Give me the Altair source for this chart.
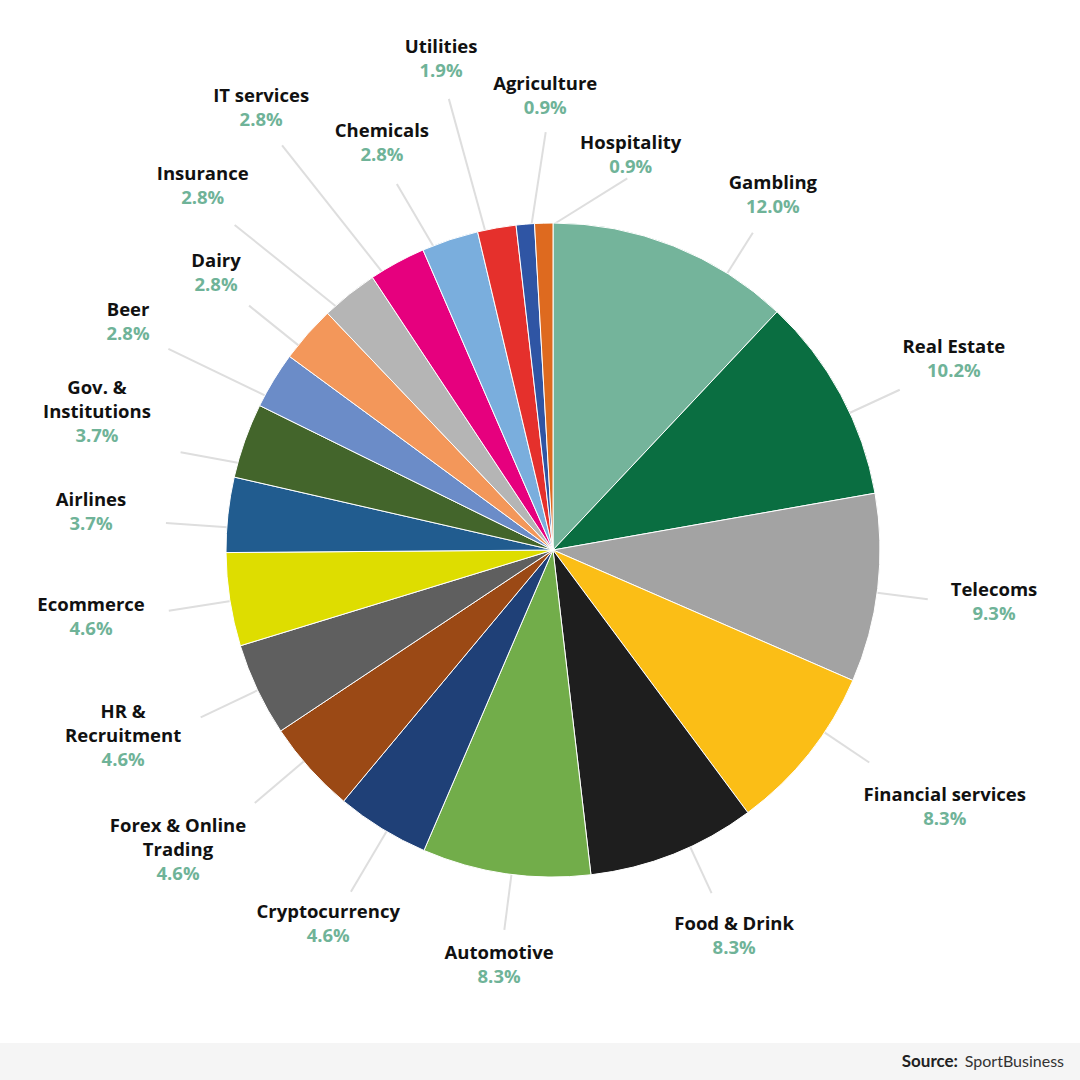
import math
import altair as alt
import pandas as pd

# ---------------- data ----------------
categories = [
    "Gambling", "Real Estate", "Telecoms", "Financial services", "Food & Drink",
    "Automotive", "Cryptocurrency", "Forex & Online\nTrading", "HR &\nRecruitment",
    "Ecommerce", "Airlines", "Gov. &\nInstitutions", "Beer", "Dairy", "Insurance",
    "IT services", "Chemicals", "Utilities", "Agriculture", "Hospitality",
]
shares = [12.0, 10.2, 9.3, 8.3, 8.3, 8.3, 4.6, 4.6, 4.6, 4.6,
          3.7, 3.7, 2.8, 2.8, 2.8, 2.8, 2.8, 1.9, 0.9, 0.9]
colors = [
    "#74b49b", "#0a6e41", "#a3a3a3", "#fbbe16", "#1e1e1e",
    "#72ad4a", "#1f4077", "#9b4915", "#5f5f5f", "#dedd00",
    "#215c8f", "#43652b", "#6b8cc8", "#f3975a", "#b5b5b5",
    "#e6007e", "#7aaedd", "#e5302c", "#2f55a4", "#de6a1f",
]

# ---------------- label layout (angle clockwise from top in degrees, radius in px) ----------------
label_angle = [32.2, 65.2, 97.5, 123.9, 155.2, 187.3, 210.6, 229.7, 244.6, 261.0,
               274.0, 284.7, 297.6, 308.8, 315.6, 326.2, 336.9, 347.0, 359.0, 371.3]
label_radius = [412.6, 441.6, 444.8, 472.0, 431.8, 424.4, 441.6, 491.7, 475.9, 467.7,
                463.1, 471.5, 479.5, 432.4, 500.7, 524.7, 436.0, 497.8, 448.1, 396.7]
line_end_radius = [375, 382, 378, 381, 378, 383, 397, 391, 390, 389,
                   388, 385, 434, 390, 455, 487, 398, 463, 418, 379]

PIE_R = 327
CX, CY = 553, 550
W, H = 1080, 1080
FONT = "Open Sans"

total = sum(shares)
rows = []
cum = 0.0
for i, (c, v) in enumerate(zip(categories, shares)):
    start, end = cum, cum + v
    cum = end
    a0 = start / total * 360
    a1 = end / total * 360
    m = 0.2 * (a1 - a0)
    la = label_angle[i]
    ls = min(max(la, a0 + m), a1 - m)
    parts = c.split("\n")
    rows.append(dict(
        category=c, share=v, start=start, end=end,
        name_top=" ".join(parts[:-1]), name_bot=parts[-1],
        pct=f"{v:.1f}%",
        lx=label_radius[i] * math.sin(math.radians(la)),
        ly=label_radius[i] * math.cos(math.radians(la)),
        x1=(PIE_R - 4) * math.sin(math.radians(ls)),
        y1=(PIE_R - 4) * math.cos(math.radians(ls)),
        x2=line_end_radius[i] * math.sin(math.radians(la)),
        y2=line_end_radius[i] * math.cos(math.radians(la)),
    ))
df = pd.DataFrame(rows)

xs = alt.Scale(domain=[-CX, W - CX], nice=False, zero=False)
ys = alt.Scale(domain=[-(H - CY), CY], nice=False, zero=False)

base = alt.Chart(df)

lines = base.mark_rule(color="#dedede", strokeWidth=2).encode(
    x=alt.X("x1:Q", scale=xs, axis=None),
    y=alt.Y("y1:Q", scale=ys, axis=None),
    x2="x2:Q",
    y2="y2:Q",
)

pie = base.mark_arc(outerRadius=PIE_R, stroke="white", strokeWidth=1).encode(
    theta=alt.Theta("start:Q", scale=alt.Scale(domain=[0, total], range=[0, 2 * math.pi])),
    theta2="end:Q",
    color=alt.Color("category:N", scale=alt.Scale(domain=categories, range=colors), legend=None),
    x=alt.value(CX),
    y=alt.value(CY),
)


def label_layer(field, color, dy):
    return base.mark_text(
        font=FONT, fontWeight="bold", fontSize=18.5, color=color,
        align="center", baseline="alphabetic", dy=dy,
    ).encode(
        x=alt.X("lx:Q", scale=xs, axis=None),
        y=alt.Y("ly:Q", scale=ys, axis=None),
        text=f"{field}:N",
    )


names_top = label_layer("name_top", "#111111", -36)
names_bot = label_layer("name_bot", "#111111", -12)
pcts = label_layer("pct", "#6fb398", 12)

one = alt.Chart(pd.DataFrame({"k": [0]}))
footer_band = one.mark_rect(color="#f5f5f5").encode(
    x=alt.value(0), x2=alt.value(W), y=alt.value(1043), y2=alt.value(H),
)
src_bold = one.mark_text(
    font="Lato", fontWeight="bold", fontSize=17, color="#222222",
    align="right", baseline="alphabetic",
).encode(x=alt.value(958), y=alt.value(1067), text=alt.value("Source:"))
src_name = one.mark_text(
    font="Lato", fontWeight="normal", fontSize=16, color="#333333",
    align="right", baseline="alphabetic",
).encode(x=alt.value(1064), y=alt.value(1067), text=alt.value("SportBusiness"))

chart = alt.layer(lines, pie, names_top, names_bot, pcts, footer_band, src_bold, src_name).properties(
    width=W, height=H, padding=0, autosize=alt.AutoSizeParams(type="none"),
    background="white",
).configure_view(stroke=None)

chart.save("out.html", embed_options={"renderer": "svg", "actions": False})
